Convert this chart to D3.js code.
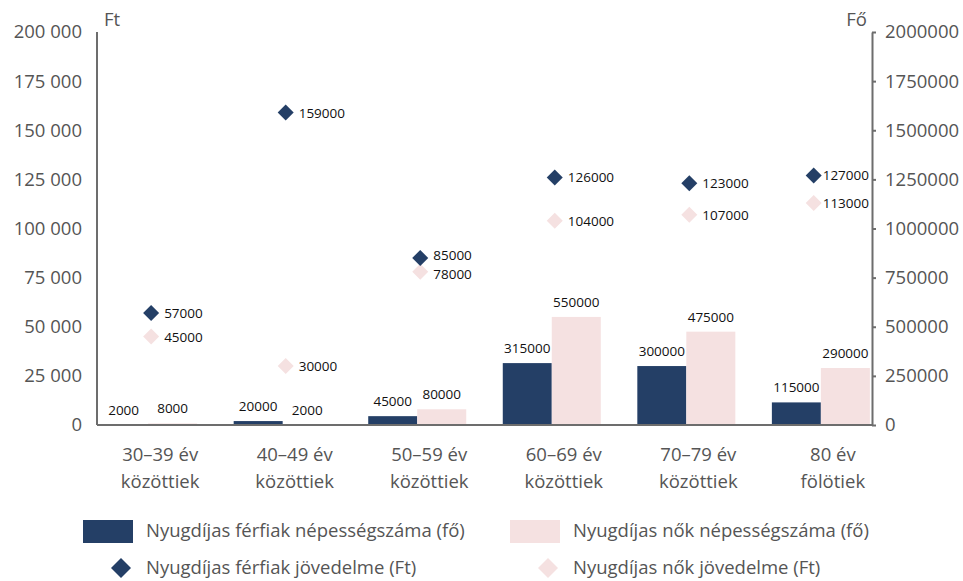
<!DOCTYPE html>
<html>
<head>
<meta charset="utf-8">
<script src="https://cdn.jsdelivr.net/npm/d3@7"></script>
<style>
  body { margin: 0; background: #fff; }
  svg text { font-family: "Open Sans", sans-serif; }
  .axis text { fill: #555; font-size: 18.5px; }
  .axis path, .axis line { stroke: #6d6d6d; stroke-width: 2; }
  .val { font-size: 13.5px; fill: #111; }
</style>
</head>
<body>
<div id="chart"></div>
<script>
// categories and series
var categories = [["30–39 év", "közöttiek"], ["40–49 év", "közöttiek"], ["50–59 év", "közöttiek"],
                  ["60–69 év", "közöttiek"], ["70–79 év", "közöttiek"], ["80 év", "fölötiek"]];
var menCount = [2000, 20000, 45000, 315000, 300000, 115000];
var womenCount = [8000, 2000, 80000, 550000, 475000, 290000];
var menIncome = [57000, 159000, 85000, 126000, 123000, 127000];
var womenIncome = [45000, 30000, 78000, 104000, 107000, 113000];
var leftTicks = [0, 25000, 50000, 75000, 100000, 125000, 150000, 175000, 200000];
var rightTicks = [0, 250000, 500000, 750000, 1000000, 1250000, 1500000, 1750000, 2000000];

var navy = '#243f66', pink = '#f5e1e1';

var width = 963, height = 581;
var plotL = 97, plotR = 872, plotT = 32, plotB = 425;

var svg = d3.select('#chart').append('svg')
    .attr('width', width)
    .attr('height', height);

var x = d3.scalePoint().domain(d3.range(categories.length)).range([plotL, plotR]).padding(0.38);
var yL = d3.scaleLinear().domain([0, 200000]).range([plotB, plotT]);
var yR = d3.scaleLinear().domain([0, 2000000]).range([plotB, plotT]);
var barW = 49;

// bars
var g = svg.append('g');
g.selectAll('rect.men').data(menCount).enter().append('rect')
  .attr('x', function(d, i) { return x(i) - barW; })
  .attr('y', function(d) { return yR(d); })
  .attr('width', barW)
  .attr('height', function(d) { return plotB - yR(d); })
  .attr('fill', navy);
g.selectAll('rect.women').data(womenCount).enter().append('rect')
  .attr('x', function(d, i) { return x(i); })
  .attr('y', function(d) { return yR(d); })
  .attr('width', barW)
  .attr('height', function(d) { return plotB - yR(d); })
  .attr('fill', pink);

// bar labels
g.selectAll('text.m').data(menCount).enter().append('text')
  .attr('class', 'val')
  .attr('x', function(d, i) { return x(i) - barW / 2; })
  .attr('y', function(d) { return yR(d) - 10; })
  .attr('text-anchor', 'middle')
  .text(function(d) { return d; });
g.selectAll('text.w').data(womenCount).enter().append('text')
  .attr('class', 'val')
  .attr('x', function(d, i) { return x(i) + barW / 2; })
  .attr('y', function(d) { return yR(d) - 10; })
  .attr('text-anchor', 'middle')
  .text(function(d) { return d; });

// axes
svg.append('g')
  .attr('class', 'axis')
  .attr('transform', 'translate(' + plotL + ',0)')
  .call(d3.axisLeft(yL).tickValues(leftTicks).tickSize(0).tickPadding(15)
    .tickFormat(function(d) { return d3.format(',')(d).replace(/,/g, ' '); }))
  .call(function(a) { a.select('.domain').attr('d', 'M0,' + plotT + 'V' + plotB); });

svg.append('g')
  .attr('class', 'axis')
  .attr('transform', 'translate(' + plotR + ',0)')
  .call(d3.axisRight(yR).tickValues(rightTicks).tickSizeInner(4).tickSizeOuter(0).tickPadding(9)
    .tickFormat(function(d) { return d; }));

svg.append('line')
  .attr('x1', plotL).attr('x2', plotR)
  .attr('y1', plotB).attr('y2', plotB)
  .attr('stroke', '#6d6d6d').attr('stroke-width', 2);

// category labels
var cat = svg.append('g').selectAll('text').data(categories).enter().append('text')
  .attr('text-anchor', 'middle')
  .attr('font-size', 18.5)
  .attr('fill', '#555');
cat.append('tspan')
  .attr('x', function(d, i) { return x(i) + 12; })
  .attr('y', 461)
  .text(function(d) { return d[0]; });
cat.append('tspan')
  .attr('x', function(d, i) { return x(i) + 12; })
  .attr('y', 488)
  .text(function(d) { return d[1]; });

// axis titles
svg.append('text').attr('x', 104).attr('y', 26).attr('font-size', 18.5).attr('fill', '#555').text('Ft');
svg.append('text').attr('x', 867).attr('y', 26).attr('font-size', 18.5).attr('fill', '#555')
  .attr('text-anchor', 'end').text('Fő');

// diamonds (labels pushed left if they would run into the right axis)
var diamond = d3.symbol().type(d3.symbolSquare).size(128);
function drawPoints(data, color) {
  var pg = svg.append('g');
  var pts = pg.selectAll('path').data(data).enter().append('path')
    .attr('d', diamond)
    .attr('fill', color);
  var lbl = pg.selectAll('text').data(data).enter().append('text')
    .attr('class', 'val')
    .attr('y', function(d) { return yL(d) + 5; })
    .text(function(d) { return d; });
  lbl.each(function(d, i) {
    var w = this.getComputedTextLength();
    var cx = x(i) + 3, lx = cx + 13;
    if (lx + w > plotR - 3) { lx = plotR - 3 - w; cx = lx - 9; }
    d3.select(this).attr('x', lx);
    d3.select(pts.nodes()[i])
      .attr('transform', 'translate(' + cx + ',' + yL(d) + ') rotate(45)');
  });
  return lbl;
}
var wLbl = drawPoints(womenIncome, pink);
var mLbl = drawPoints(menIncome, navy);

// keep the two income labels of a category from colliding
var minGap = 19;
menIncome.forEach(function(m, i) {
  var gap = yL(womenIncome[i]) - yL(m);
  if (gap < minGap) {
    var s = (minGap - gap) / 2;
    d3.select(mLbl.nodes()[i]).attr('y', yL(m) + 5 - s);
    d3.select(wLbl.nodes()[i]).attr('y', yL(womenIncome[i]) + 5 + s);
  }
});

// legend
var legend = [
  {label: 'Nyugdíjas férfiak népességszáma (fő)', color: navy, type: 'rect', x: 83, y: 531},
  {label: 'Nyugdíjas nők népességszáma (fő)', color: pink, type: 'rect', x: 510, y: 531},
  {label: 'Nyugdíjas férfiak jövedelme (Ft)', color: navy, type: 'diamond', x: 83, y: 568},
  {label: 'Nyugdíjas nők jövedelme (Ft)', color: pink, type: 'diamond', x: 510, y: 568}
];
var lg = svg.append('g').selectAll('g').data(legend).enter().append('g');
lg.filter(function(d) { return d.type === 'rect'; }).append('rect')
  .attr('x', function(d) { return d.x; })
  .attr('y', function(d) { return d.y - 11; })
  .attr('width', 50).attr('height', 23)
  .attr('fill', function(d) { return d.color; });
lg.filter(function(d) { return d.type === 'diamond'; }).append('path')
  .attr('d', d3.symbol().type(d3.symbolSquare).size(200))
  .attr('transform', function(d) { return 'translate(' + (d.x + 38) + ',' + d.y + ') rotate(45)'; })
  .attr('fill', function(d) { return d.color; });
lg.append('text')
  .attr('x', function(d) { return d.x + 63; })
  .attr('y', function(d) { return d.y + 6; })
  .attr('font-size', 18.5)
  .attr('fill', '#555')
  .text(function(d) { return d.label; });
</script>
</body>
</html>
